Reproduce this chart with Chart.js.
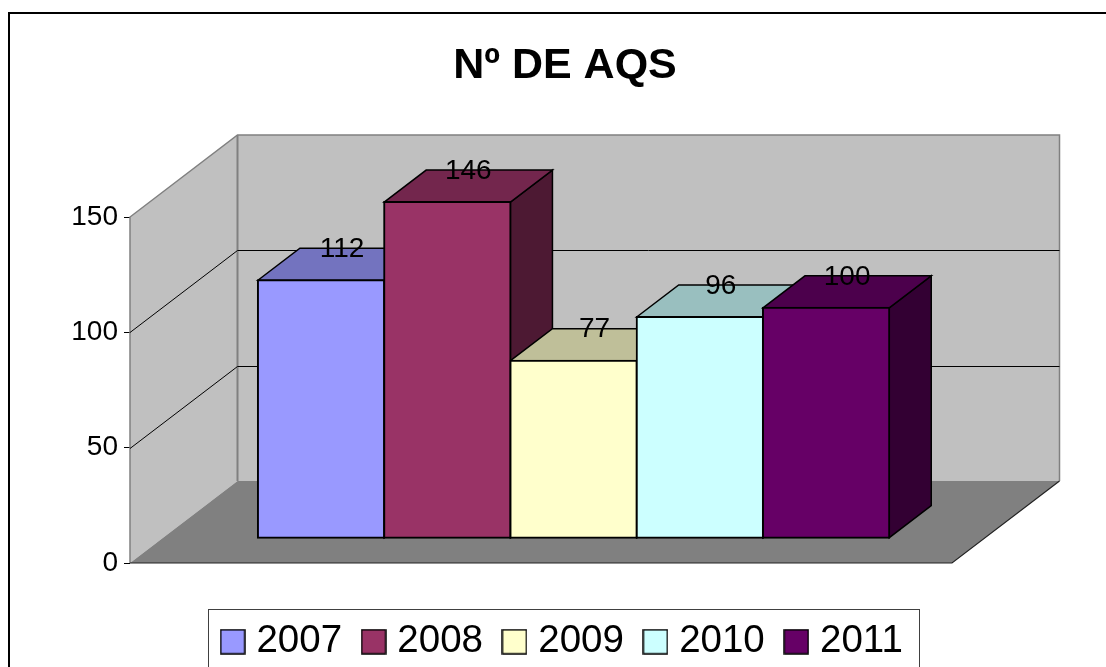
<!DOCTYPE html>
<html>
<head>
<meta charset="utf-8">
<title>Nº DE AQS</title>
<script src="https://cdn.jsdelivr.net/npm/chart.js@4"></script>
<style>
    html, body { margin: 0; padding: 0; background: #fff; overflow: hidden; }
    canvas { display: block; }
</style>
</head>
<body>
<canvas id="chart" width="1106" height="667"></canvas>
<script>
const categories = ['2007', '2008', '2009', '2010', '2011'];
const values = [112, 146, 77, 96, 100];
const yTicks = [0, 50, 100, 150];
const barColors = ['#9999FF', '#993366', '#FFFFCC', '#CCFFFF', '#660066'];
const topColors = ['#7373BF', '#73264D', '#BFBF99', '#99BFBF', '#4C004C'];
const sideColors = ['#4D4D80', '#4D1933', '#808066', '#668080', '#330033'];

// depth of the fake 3D box and of each bar, in pixels
const wallDx = 107.5, wallDy = 82;
const barDx = 42, barDy = 32;

Chart.defaults.font.family = '"Liberation Sans", Arial, sans-serif';
Chart.defaults.color = '#000';

function poly(ctx, pts, fill, stroke, lw) {
    ctx.beginPath();
    pts.forEach((p, i) => i ? ctx.lineTo(p[0], p[1]) : ctx.moveTo(p[0], p[1]));
    ctx.closePath();
    if (fill) { ctx.fillStyle = fill; ctx.fill(); }
    if (stroke) { ctx.strokeStyle = stroke; ctx.lineWidth = lw; ctx.stroke(); }
}

function line(ctx, pts, stroke, lw) {
    ctx.beginPath();
    pts.forEach((p, i) => i ? ctx.lineTo(p[0], p[1]) : ctx.moveTo(p[0], p[1]));
    ctx.strokeStyle = stroke;
    ctx.lineWidth = lw;
    ctx.stroke();
}

// legend swatch, drawn once per colour
function swatch(color) {
    const c = document.createElement('canvas');
    c.width = 26; c.height = 26;
    const g = c.getContext('2d');
    g.fillStyle = color;
    g.fillRect(1, 1, 24, 24);
    g.strokeStyle = '#000';
    g.lineWidth = 1.5;
    g.strokeRect(1, 1, 24, 24);
    return c;
}

const box3d = {
    id: 'box3d',
    afterLayout(chart) {
        // legend row runs past the bottom of the picture in the original
        const lg = chart.legend;
        lg.left += 0.5; lg.right += 0.5;
        lg.top += 4; lg.bottom += 4;
    },
    beforeDatasetsDraw(chart) {
        const ctx = chart.ctx, y = chart.scales.y;
        const l = chart.chartArea.left, r = chart.chartArea.right;
        const top = y.getPixelForValue(150), bot = y.getPixelForValue(0);

        ctx.save();
        // walls and floor
        poly(ctx, [[l + wallDx, top - wallDy], [r + wallDx, top - wallDy], [r + wallDx, bot - wallDy], [l + wallDx, bot - wallDy]], '#C0C0C0');
        poly(ctx, [[l, top], [l + wallDx, top - wallDy], [l + wallDx, bot - wallDy], [l, bot]], '#C0C0C0');
        poly(ctx, [[l, bot], [l + wallDx, bot - wallDy], [r + wallDx, bot - wallDy], [r, bot]], '#808080');
        line(ctx, [[l, bot], [l, top], [l + wallDx, top - wallDy], [r + wallDx, top - wallDy], [r + wallDx, bot - wallDy]], '#808080', 1.5);
        line(ctx, [[l + wallDx, top - wallDy], [l + wallDx, bot - wallDy]], '#808080', 2);
        line(ctx, [[l, bot], [r, bot], [r + wallDx, bot - wallDy]], '#222', 1.2);

        // gridlines on the walls
        y.ticks.forEach(t => {
            if (t.value === yTicks[0] || t.value === yTicks[yTicks.length - 1]) return;
            const py = Math.round(y.getPixelForValue(t.value)) + 0.5;
            line(ctx, [[l, py], [l + wallDx, py - wallDy], [r + wallDx, py - wallDy]], '#000', 1);
        });

        // sides and tops of the bars, left to right so the next bar covers the last one
        chart.getDatasetMeta(0).data.forEach((bar, i) => {
            const x0 = bar.x - bar.width / 2, x1 = bar.x + bar.width / 2;
            poly(ctx, [[x1, bar.y], [x1 + barDx, bar.y - barDy], [x1 + barDx, bar.base - barDy], [x1, bar.base]], sideColors[i], '#000', 1.5);
            poly(ctx, [[x0, bar.y], [x0 + barDx, bar.y - barDy], [x1 + barDx, bar.y - barDy], [x1, bar.y]], topColors[i], '#000', 1.5);
        });
        ctx.restore();
    },
    afterDatasetsDraw(chart) {
        const ctx = chart.ctx;
        ctx.save();
        ctx.font = '28px "Liberation Sans", Arial, sans-serif';
        ctx.fillStyle = '#000';
        ctx.textAlign = 'center';
        ctx.textBaseline = 'middle';
        chart.getDatasetMeta(0).data.forEach((bar, i) => {
            ctx.fillText(values[i], bar.x + barDx / 2, bar.y - barDy + 1);
        });
        ctx.restore();
    },
    afterDraw(chart) {
        const ctx = chart.ctx;
        ctx.save();
        // outer frame: only left and top are inside the picture
        line(ctx, [[9, 680], [9, 13], [1106, 13]], '#000', 2);
        ctx.strokeStyle = '#404040';
        ctx.lineWidth = 1;
        ctx.strokeRect(208.5, 609.5, 711, 80);
        ctx.restore();
    }
};

new Chart(document.getElementById('chart'), {
    type: 'bar',
    data: {
        datasets: [{
            data: categories.map((c, i) => ({ x: i, y: values[i] })),
            yAxisID: 'yBars',
            backgroundColor: barColors,
            borderColor: '#000',
            borderWidth: 2,
            borderSkipped: false,
            inflateAmount: 1,
            barPercentage: 1,
            categoryPercentage: 1,
            clip: false
        }]
    },
    options: {
        responsive: false,
        animation: false,
        layout: { padding: { left: 24, right: 0, top: 0, bottom: 0 } },
        scales: {
            x: {
                type: 'linear',
                offset: false,
                min: -1.513,
                max: 4.997,
                afterBuildTicks(scale) { scale.ticks = categories.map((c, i) => ({ value: i })); },
                ticks: { display: false },
                grid: { display: false, offset: false },
                border: { display: false },
                afterFit(scale) { scale.height = 28.5; }
            },
            y: {
                position: 'left',
                min: yTicks[0],
                max: yTicks[yTicks.length - 1],
                afterBuildTicks(scale) { scale.ticks = yTicks.map(v => ({ value: v })); },
                afterFit(scale) { scale.width = 106; },
                ticks: { font: { size: 28 }, padding: 6, color: '#000' },
                grid: { drawOnChartArea: false, drawTicks: true, tickLength: 6, color: '#000' },
                border: { display: false }
            },
            // bars stand on a floor further back than the axis zero, same scale factor
            yBars: {
                position: 'right',
                min: -11,
                max: 139.5,
                ticks: { display: false },
                grid: { display: false },
                border: { display: false },
                afterFit(scale) { scale.width = 154; }
            }
        },
        plugins: {
            title: {
                display: true,
                text: 'Nº DE AQS',
                font: { size: 43, weight: 'bold' },
                color: '#000',
                padding: { top: 40, bottom: 125.4 }
            },
            legend: {
                position: 'bottom',
                labels: {
                    usePointStyle: true,
                    pointStyleWidth: 9,
                    boxHeight: 9,
                    padding: 27,
                    font: { size: 38.5 },
                    color: '#000',
                    generateLabels: () => categories.map((c, i) => ({
                        text: c,
                        pointStyle: swatch(barColors[i]),
                        fillStyle: barColors[i],
                        strokeStyle: '#000',
                        lineWidth: 1.5,
                        datasetIndex: 0,
                        index: i
                    }))
                }
            },
            tooltip: { enabled: false }
        }
    },
    plugins: [box3d]
});
</script>
</body>
</html>
